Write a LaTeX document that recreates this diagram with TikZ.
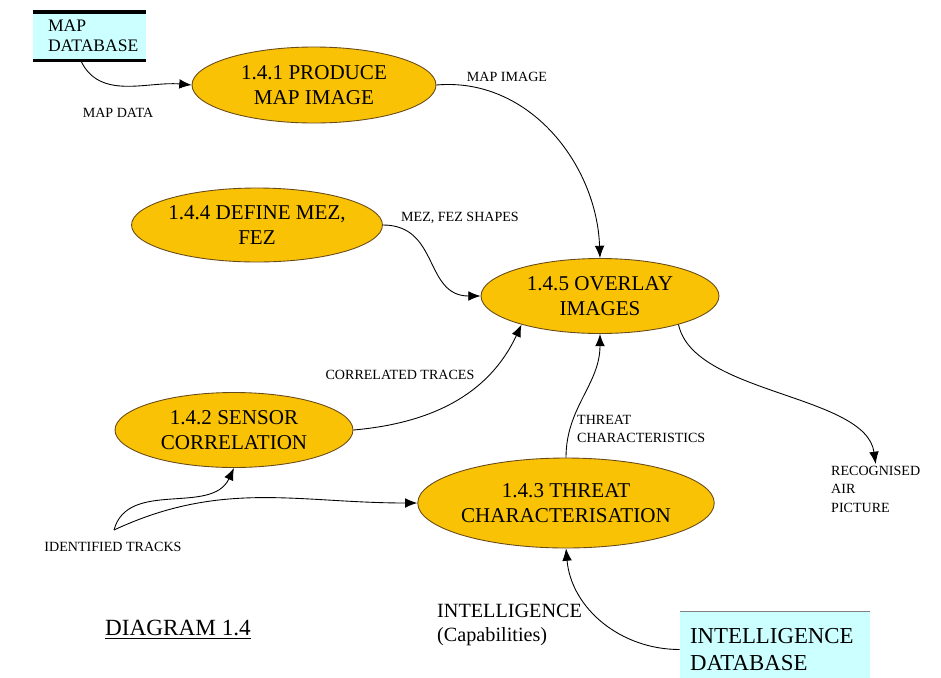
\documentclass[tikz,border=0pt]{standalone}
\usepackage{fontspec}
\setmainfont{Liberation Serif}
\usepackage{tikz}
\usetikzlibrary{arrows.meta, positioning, shapes.geometric}
\definecolor{procfill}{RGB}{249,194,4}
\definecolor{procline}{RGB}{105,75,25}
\definecolor{storefill}{RGB}{204,255,255}

\begin{document}
\begin{tikzpicture}[x=0.02cm, y=-0.02cm, >={Latex[length=7pt, width=5.5pt]}, line width=0.5pt,
  process/.style={ellipse, draw=procline, fill=procfill, align=center, inner sep=0pt,
    font=\fontsize{12}{14}\selectfont},
  flow/.style={align=left, inner sep=1pt, font=\fontsize{8}{10.5}\selectfont},
  store/.style={fill=storefill, align=left, inner ysep=0pt}]
\useasboundingbox (0,0) rectangle (941,677);

% processes
\node[process, minimum width=4.88cm, minimum height=1.52cm] (p141) at (314,85) {1.4.1 PRODUCE\\MAP IMAGE};
\node[process, minimum width=4.80cm, minimum height=1.48cm] (p144) at (257,225) {1.4.4 DEFINE MEZ,\\FEZ};
\node[process, minimum width=4.76cm, minimum height=1.50cm] (p145) at (600,296) {1.4.5 OVERLAY\\IMAGES};
\node[process, minimum width=4.76cm, minimum height=1.50cm] (p142) at (234,430) {1.4.2 SENSOR\\CORRELATION};
\node[process, minimum width=5.24cm, minimum height=1.80cm] (p143) at (566,503) {1.4.3 THREAT\\CHARACTERISATION};

% stores
\node[store, minimum width=2.26cm, minimum height=0.96cm, text width=1.66cm, inner xsep=0.3cm,
  font=\fontsize{10}{11.5}\selectfont] (mapdb) at (89.5,36) {MAP\\DATABASE};
\draw[line width=2.2pt] (mapdb.north west) -- (mapdb.north east);
\draw[line width=2.2pt] (mapdb.south west) -- (mapdb.south east);
\node[store, minimum width=3.8cm, minimum height=1.5cm, text width=3.4cm, inner xsep=0.2cm,
  font=\fontsize{13}{15}\selectfont] (intdb) at (775,649.5) {INTELLIGENCE\\DATABASE};
\draw[gray] (intdb.north west) -- (intdb.north east);

% flow labels
\node[flow] (mapdata) at (118,113) {MAP DATA};
\node[flow] (mapimg) at (507,77) {MAP IMAGE};
\node[flow] (mezfez) at (460,218) {MEZ, FEZ SHAPES};
\node[flow] (corr) at (400,375) {CORRELATED TRACES};
\node[flow, anchor=west, font=\fontsize{8}{10}\selectfont] (thrch) at (575,429) {THREAT\\CHARACTERISTICS};
\node[flow, anchor=north west] (rap) at (829,464) {RECOGNISED\\AIR\\PICTURE};
\node[flow] (idtr) at (113,547) {IDENTIFIED TRACKS};
\coordinate (idsrc) at (114,530);
\node[anchor=west, align=left, inner sep=1pt, font=\fontsize{11.5}{14}\selectfont] (intel) at (435,625) {INTELLIGENCE\\(Capabilities)};
\node[font=\fontsize{13.2}{15}\selectfont] (diag) at (178,630) {\underline{DIAGRAM 1.4}};

% flows
\draw[->] ([xshift=-5pt]mapdb.south) to[out=-65, in=175] (p141.west);
\draw[->] (p141.east) to[out=5, in=92] (p145.north);
\draw[->] (p144.east) to[out=0, in=180, looseness=1.2] (p145.west);
\draw[->] (p142.east) to[out=5, in=-115] (p145.-160);
\draw[->] (p143.north) to[out=90, in=-90] (p145.south);
\draw[->] (p145.-20) .. controls +(15,70) and +(-10,-70) .. (rap.north);
\draw[->] (idsrc) to[out=75, in=-115] (p142.south);
\draw[->] (idsrc) to[out=25, in=180] (p143.west);
\draw[->] (intdb.west) to[out=180, in=-85] (p143.south);
%
\end{tikzpicture}
\end{document}
